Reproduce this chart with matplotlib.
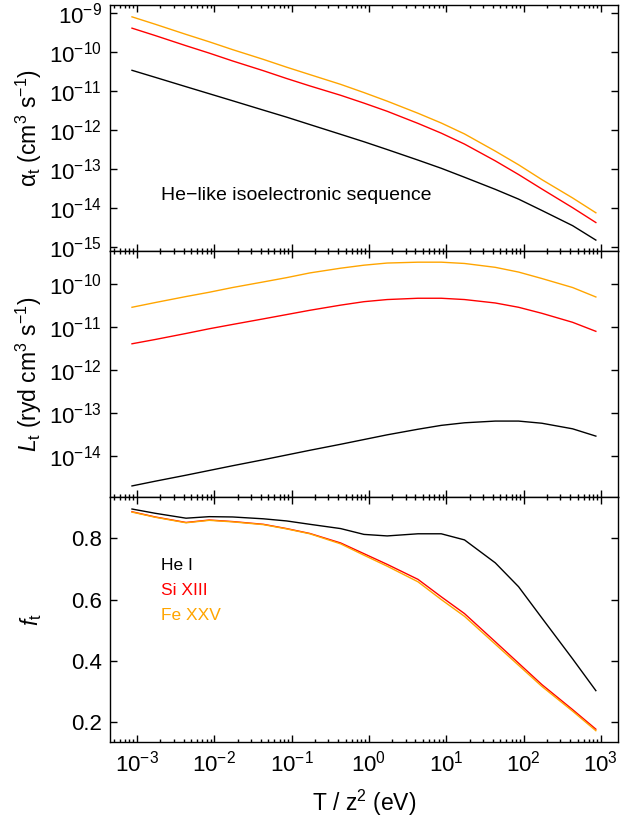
import numpy as np
import matplotlib
matplotlib.use("Agg")
import matplotlib.pyplot as plt
from matplotlib.ticker import LogLocator, NullLocator, FixedLocator

plt.rcParams['font.family'] = ['Liberation Sans', 'DejaVu Sans']
plt.rcParams['mathtext.fontset'] = 'custom'
plt.rcParams['mathtext.rm'] = 'Liberation Sans'
plt.rcParams['mathtext.it'] = 'Liberation Sans:italic'
plt.rcParams['mathtext.bf'] = 'Liberation Sans:bold'

# Temperature grid T/z^2 (eV)
T = [8.617e-4, 1.723e-3, 4.309e-3, 8.617e-3, 1.723e-2, 4.309e-2, 8.617e-2,
     0.1723, 0.4309, 0.8617, 1.723, 4.309, 8.617, 17.23, 43.09, 86.17,
     172.3, 430.9, 861.7]

# log10 of total recombination rate coefficient alpha_t (cm^3 s^-1)
log_alpha_HeI = [-10.47, -10.65, -10.89, -11.07, -11.25, -11.49, -11.67, -11.86,
                 -12.11, -12.30, -12.50, -12.77, -12.98, -13.21, -13.52, -13.77,
                 -14.06, -14.45, -14.82]
log_alpha_SiXIII = [-9.39, -9.58, -9.84, -10.03, -10.23, -10.48, -10.68, -10.87,
                    -11.11, -11.31, -11.52, -11.83, -12.08, -12.36, -12.79, -13.14,
                    -13.51, -13.99, -14.37]
log_alpha_FeXXV = [-9.10, -9.29, -9.55, -9.74, -9.94, -10.19, -10.39, -10.58,
                   -10.83, -11.04, -11.26, -11.57, -11.82, -12.10, -12.54, -12.89,
                   -13.27, -13.74, -14.12]

# log10 of recombination cooling L_t (ryd cm^3 s^-1)
log_L_HeI = [-14.70, -14.59, -14.45, -14.34, -14.23, -14.09, -13.98, -13.87,
             -13.73, -13.62, -13.51, -13.38, -13.29, -13.23, -13.19, -13.19,
             -13.24, -13.37, -13.54]
log_L_SiXIII = [-11.39, -11.29, -11.15, -11.04, -10.94, -10.81, -10.71, -10.61,
                -10.49, -10.41, -10.36, -10.33, -10.33, -10.36, -10.44, -10.54,
                -10.68, -10.89, -11.10]
log_L_FeXXV = [-10.54, -10.43, -10.29, -10.19, -10.08, -9.95, -9.85, -9.74,
               -9.63, -9.56, -9.51, -9.49, -9.49, -9.52, -9.61, -9.72,
               -9.87, -10.08, -10.30]

# fraction f_t
f_HeI = [0.896, 0.882, 0.866, 0.871, 0.870, 0.864, 0.857, 0.846, 0.832, 0.813,
         0.808, 0.815, 0.815, 0.795, 0.720, 0.642, 0.540, 0.406, 0.302]
f_SiXIII = [0.887, 0.870, 0.852, 0.860, 0.855, 0.846, 0.832, 0.816, 0.785, 0.750,
            0.715, 0.666, 0.609, 0.554, 0.462, 0.392, 0.322, 0.240, 0.176]
f_FeXXV = [0.886, 0.869, 0.851, 0.859, 0.854, 0.845, 0.831, 0.815, 0.782, 0.745,
           0.709, 0.658, 0.600, 0.545, 0.454, 0.385, 0.316, 0.235, 0.171]

labels = ['He I', 'Si XIII', 'Fe XXV']
colors = ['black', '#ff0000', '#ffa500']

fig = plt.figure(figsize=(6.37, 8.23), dpi=100)
left, width = 0.1727, 0.7975
ax1 = fig.add_axes([left, 0.695, width, 0.299])
ax2 = fig.add_axes([left, 0.396, width, 0.299])
ax3 = fig.add_axes([left, 0.0984, width, 0.2976])

lw = 1.0
for vals, c in zip([log_alpha_HeI, log_alpha_SiXIII, log_alpha_FeXXV], colors):
    ax1.plot(T, 10.0 ** np.array(vals), color=c, lw=lw)
for vals, c in zip([log_L_HeI, log_L_SiXIII, log_L_FeXXV], colors):
    ax2.plot(T, 10.0 ** np.array(vals), color=c, lw=lw)
for vals, c in zip([f_HeI, f_SiXIII, f_FeXXV], colors):
    ax3.plot(T, vals, color=c, lw=lw)

xlim = (10 ** -3.349, 10 ** 3.222)
for ax in (ax1, ax2, ax3):
    ax.set_xscale('log')
    ax.set_xlim(*xlim)
    ax.xaxis.set_major_locator(LogLocator(base=10, numticks=20))
    ax.xaxis.set_minor_locator(LogLocator(base=10, subs=np.arange(2, 10), numticks=20))
    ax.tick_params(which='both', direction='in', top=True, right=True, labelsize=16)
    ax.tick_params(which='major', length=5, width=1.0)
    ax.tick_params(which='minor', length=2.5, width=1.0)
    ax.tick_params(axis='y', pad=6)
    ax.tick_params(axis='x', pad=6)
    for s in ax.spines.values():
        s.set_linewidth(1.0)

ax1.tick_params(labelbottom=False)
ax2.tick_params(labelbottom=False)

ax1.set_yscale('log')
ax1.set_ylim(10 ** -15.10, 10 ** -8.795)
ax1.yaxis.set_major_locator(LogLocator(base=10, numticks=20))
ax1.yaxis.set_minor_locator(NullLocator())

ax2.set_yscale('log')
ax2.set_ylim(10 ** -14.96, 10 ** -9.23)
ax2.yaxis.set_major_locator(LogLocator(base=10, numticks=20))
ax2.yaxis.set_minor_locator(NullLocator())

ax3.set_ylim(0.134, 0.935)
ax3.yaxis.set_major_locator(FixedLocator([0.2, 0.4, 0.6, 0.8]))
ax3.yaxis.set_minor_locator(NullLocator())

ax1.set_ylabel('α$_\\mathrm{t}$ (cm$^3$ s$^{-1}$)', fontsize=16.5)
ax2.set_ylabel('$L_\\mathrm{t}$ (ryd cm$^3$ s$^{-1}$)', fontsize=16.5)
ax3.set_ylabel('$f_\\mathrm{t}$', fontsize=16.5)
for ax in (ax1, ax2, ax3):
    ax.yaxis.set_label_coords(-0.13, 0.5)
ax3.set_xlabel('T / z$^2$ (eV)', fontsize=16.5, labelpad=8)

ax1.text(0.100, 0.224, 'He\u2212like isoelectronic sequence', transform=ax1.transAxes,
         fontsize=14, va='center', ha='left')

for lab, c, y in zip(labels, colors, [0.722, 0.620, 0.518]):
    ax3.text(0.100, y, lab, color=c, transform=ax3.transAxes, fontsize=12.5,
             va='center', ha='left')

fig.savefig('out.png', dpi=100)
